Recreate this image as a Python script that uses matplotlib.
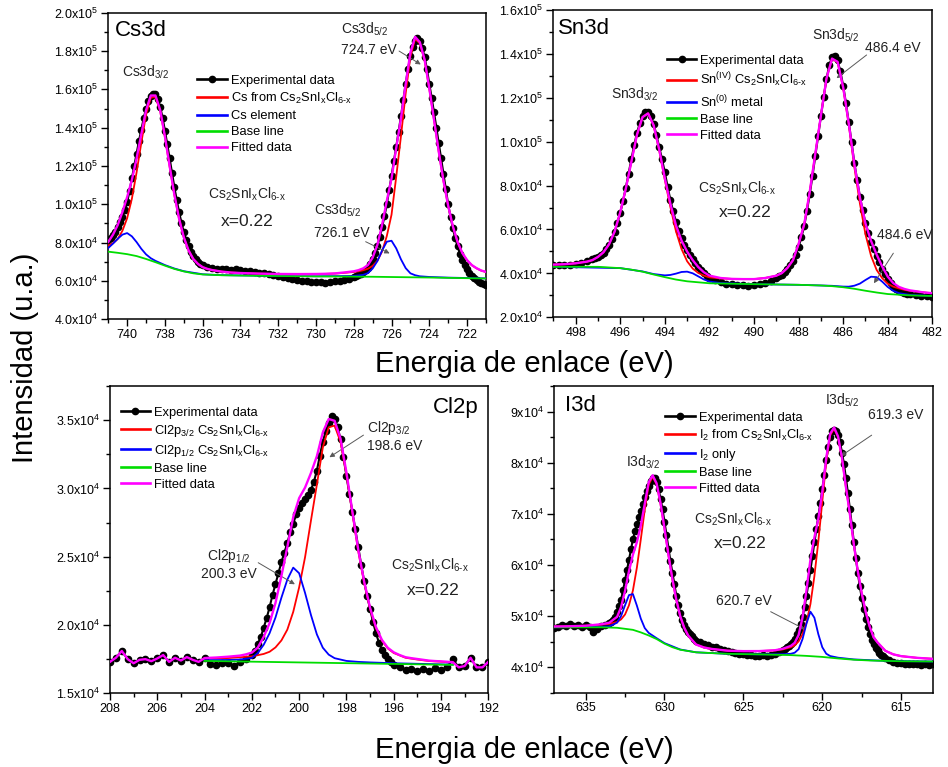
import numpy as np
import matplotlib.pyplot as plt
from matplotlib.ticker import MultipleLocator, FuncFormatter

plt.rcParams['font.family'] = ['Liberation Sans', 'DejaVu Sans']
plt.rcParams['mathtext.fontset'] = 'custom'
plt.rcParams['mathtext.rm'] = 'Liberation Sans'
plt.rcParams['mathtext.it'] = 'Liberation Sans:italic'
plt.rcParams['mathtext.bf'] = 'Liberation Sans:bold'

COMP = 'Cs$_2$SnI$_\\mathrm{x}$Cl$_\\mathrm{6\u2010x}$'

# all intensities below are in units of 1e3 counts

# ---------------- Cs3d ----------------
cs_exp_x = np.concatenate([np.arange(741, 735.99, -0.125),
                           np.arange(735.75, 728.2, -0.25),
                           np.arange(728, 720.99, -0.125)])
cs_exp = [81.5, 82.6, 83.8, 85.8, 88.0, 90.6, 93.5, 97.0, 101.0, 107.0,
          113.5, 120.0, 126.5, 133.0, 139.0, 144.8, 150.0, 153.8, 156.5, 157.8,
          157.5, 155.0, 151.0, 145.2, 138.5, 131.3, 124.0, 116.5, 109.0, 102.3,
          96.0, 90.5, 85.5, 81.5, 78.0, 75.3, 73.0, 71.3, 70.0, 69.1, 68.5,
          67.5, 67.0, 66.5, 66.3, 66.0, 65.6, 66.0, 65.5, 65.0, 65.2,
          64.6, 64.3, 64.0, 63.6, 63.0, 62.8, 62.3, 61.5, 61.0, 60.6,
          60.2, 60.0, 59.6, 59.3, 59.5, 59.2, 59.6, 59.8, 60.2, 60.6, 61.2,
          62.0, 62.4, 63.0, 63.6, 64.5, 65.6, 67.0, 69.0, 71.5, 74.5,
          78.0, 82.7, 88.0, 93.8, 100.0, 107.3, 115.0, 122.5, 130.0, 138.0,
          146.0, 154.5, 163.0, 170.7, 177.5, 182.3, 185.5, 186.6, 185.0, 181.8,
          177.0, 170.5, 163.0, 155.5, 148.0, 140.0, 132.0, 124.0, 116.0, 108.0,
          100.0, 93.3, 87.5, 82.3, 78.0, 74.2, 71.0, 68.3, 66.0, 64.1,
          62.5, 61.4, 60.5, 59.7, 59.0, 58.5, 58.0]
cs_fit_x = np.concatenate([np.arange(741, 735.4, -0.25),
                           [735, 734.5, 734, 733, 732, 731, 730, 729.5, 729, 728.5],
                           np.arange(728, 720.9, -0.25)])
cs_red = [78.5, 79.7, 81.9, 86.2, 92.8, 102.9, 116.7, 132.1, 146.7, 155.6,
          156.1, 148.7, 135.2, 119.7, 104.9, 92.4, 82.7, 75.9, 71.5, 68.9,
          67.2, 66.3, 65.7,
          64.9, 64.4, 64.15, 63.85, 63.6, 63.55, 63.6, 63.7, 63.85, 64.25,
          64.7, 65.05, 65.6, 66.4, 67.9, 70.5, 75.4, 83.45, 94.6, 114.5,
          135.6, 158.0, 177.2, 186.3, 184.0, 175.2, 160.3, 144.0, 127.4, 112.2,
          99.1, 88.4, 80.2, 74.5, 70.8, 68.2, 66.6, 65.4, 64.7]
cs_fit = [80.4, 84.2, 89.2, 96.0, 103.8, 112.7, 124.0, 136.6, 149.1, 156.8,
          156.8, 149.2, 135.5, 120.0, 105.1, 92.5, 82.8, 76.0, 71.5, 68.9,
          67.2, 66.3, 65.7,
          64.9, 64.4, 64.15, 63.85, 63.65, 63.6, 63.65, 63.75, 63.95, 64.45,
          65.05, 65.65, 66.6, 68.3, 72.2, 78.8, 89.2, 101.85, 113.5, 129.5,
          144.9, 162.8, 179.3, 187.4, 184.6, 175.6, 160.6, 144.2, 127.6, 112.4,
          99.25, 88.5, 80.3, 74.6, 70.9, 68.3, 66.7, 65.45, 64.75]
cs_blue_x = [741, 740.75, 740.5, 740.25, 740, 739.75, 739.5, 739.25, 739, 738.75,
             738.5, 738, 737.5, 737, 736, 735, 733, 730, 728, 727.5,
             727.25, 727, 726.75, 726.5, 726.25, 726, 725.75, 725.5, 725.25, 725,
             724.75, 724.5, 724, 723, 721]
cs_blue = [77.2, 79.5, 82.0, 84.2, 85.0, 83.3, 80.3, 76.8, 73.9, 71.9,
           70.5, 68.3, 66.5, 65.1, 63.5, 63.05, 62.75, 62.45, 62.6, 63.2,
           64.1, 66.5, 70.4, 75.9, 80.5, 81.0, 77.0, 71.3, 66.7, 64.0,
           63.0, 62.45, 62.1, 61.75, 61.35]
cs_base_x = [741, 740.5, 740, 739.5, 739, 738.5, 738, 737.5, 737, 736.5, 736,
             735, 733, 730, 727, 724, 721]
cs_base = [75.3, 74.7, 74.0, 73.0, 71.5, 69.8, 68.0, 66.3, 65.0, 64.0, 63.4,
           63.0, 62.7, 62.4, 62.2, 61.8, 61.3]

# ---------------- Sn3d ----------------
sn_exp_x = np.concatenate([np.arange(499, 497.49, -0.25),
                           np.arange(497.25, 491.99, -0.125),
                           np.arange(491.75, 489.24, -0.25),
                           np.arange(489, 482.99, -0.125),
                           np.arange(482.75, 481.99, -0.25)])
sn_exp = [43.8, 43.6, 43.9, 44.0, 44.2, 44.6, 45.5,
          46.5, 47.0, 47.6, 48.4, 49.5, 51.0, 53.0, 55.7, 59.0, 63.0,
          67.5, 73.0, 79.0, 85.5, 92.0, 98.3, 104.0, 108.3, 111.5, 113.3,
          113.5, 111.5, 108.0, 103.0, 97.5, 92.0, 86.0, 79.5, 73.5, 68.2,
          63.5, 59.5, 56.0, 53.0, 50.5, 48.4, 46.5, 44.7, 43.0, 41.4,
          40.0, 38.9, 38.0,
          36.8, 36.0, 35.4, 35.0, 34.7, 34.5, 34.4, 34.6, 35.0, 35.6, 36.5,
          37.8, 38.6, 39.5, 40.6, 42.0, 43.6, 45.5, 48.4, 52.0, 56.5,
          61.5, 68.5, 76.0, 84.5, 93.5, 102.5, 111.5, 120.3, 128.5, 134.8,
          138.5, 139.2, 137.0, 132.0, 125.5, 117.5, 109.0, 99.8, 90.5, 82.5,
          75.0, 68.7, 63.0, 58.5, 54.5, 51.0, 48.0, 45.0, 42.0, 39.6,
          37.5, 35.6, 34.0, 32.9, 32.0, 31.5, 31.0, 30.7, 30.5,
          30.0, 29.8, 29.5, 29.4]
sn_fit_x = np.concatenate([[499, 498.5, 498],
                           np.arange(497.5, 491.9, -0.25),
                           [491.5, 491, 490.5, 490, 489.5, 489],
                           np.arange(488.75, 481.9, -0.25)])
sn_red = [44.0, 44.2, 44.6,
          45.35, 46.05, 47.5, 49.65, 53.3, 59.1, 67.85, 78.6, 90.9, 103.15,
          111.2, 112.9, 107.25, 95.9, 82.6, 70.2, 59.2, 51.1, 45.55, 42.2,
          40.2, 39.0, 38.2,
          37.7, 37.5, 37.4, 37.4, 37.9, 38.95,
          40.15, 42.5, 46.05, 53.4, 62.25, 77.2, 94.55, 111.8, 128.75, 137.7,
          136.2, 124.45, 107.8, 88.5, 71.85, 57.8, 48.0, 41.6, 37.85, 35.3,
          33.95, 33.15, 32.5, 32.05, 31.8, 31.5, 31.2, 31.0]
sn_fit = [44.0, 44.2, 44.6,
          45.35, 46.05, 47.5, 49.65, 53.3, 59.1, 67.85, 78.6, 90.9, 103.15,
          111.2, 112.9, 107.45, 96.4, 83.4, 71.75, 61.9, 54.95, 49.95, 46.05,
          42.9, 40.55, 39.0,
          37.9, 37.5, 37.4, 37.4, 37.9, 38.95,
          40.15, 42.5, 46.05, 53.4, 62.25, 77.2, 94.55, 111.8, 128.75, 137.85,
          136.4, 124.75, 108.4, 89.9, 74.65, 62.7, 54.8, 48.6, 43.15, 38.5,
          35.55, 33.85, 32.9, 32.25, 31.9, 31.5, 31.2, 31.0]
sn_blue_x = [499, 496, 495, 494.5, 494, 493.75, 493.5, 493.25, 493, 492.75,
             492.5, 492.25, 492, 491.5, 490, 488, 486.5, 486, 485.75, 485.5,
             485.25, 485, 484.75, 484.5, 484.25, 484, 483.75, 483.5, 483, 482]
sn_blue = [43.0, 42.4, 40.9, 39.7, 39.1, 39.3, 39.9, 40.65, 40.8, 40.05,
           38.65, 37.25, 36.3, 35.6, 35.1, 34.8, 34.35, 34.0, 33.95, 34.4,
           35.35, 37.0, 38.5, 38.3, 36.25, 33.8, 32.05, 31.0, 30.2, 29.7]
sn_base_x = [499, 497, 496, 495.5, 495, 494.5, 494, 493.5, 493, 492, 490,
             488, 487, 486.5, 486, 485.5, 485, 484.5, 484, 483, 482]
sn_base = [43.0, 43.0, 42.4, 41.7, 40.8, 39.5, 38.3, 37.2, 36.4, 35.5, 35.1,
           34.8, 34.5, 34.2, 33.7, 33.0, 32.1, 31.3, 30.6, 30.0, 29.7]

# ---------------- Cl2p ----------------
cl_exp_x = np.concatenate([np.arange(208, 202.24, -0.25),
                           np.arange(202, 195.99, -0.125),
                           np.arange(195.75, 191.99, -0.25)])
cl_exp = [17.3, 17.6, 18.1, 17.5, 17.2, 17.45, 17.5, 17.35, 17.55, 17.8,
          17.3, 17.6, 17.4, 17.65, 17.45, 17.3, 17.55,
          17.15, 17.05, 17.25, 17.2, 17.0, 17.3, 17.5,
          17.8, 18.1, 18.6, 19.1, 19.8, 20.5, 21.3, 22.2, 23.0, 23.8,
          24.6, 25.3, 26.0, 26.8, 27.4, 28.1, 28.6, 28.9, 29.2, 29.5,
          29.9, 30.5, 31.3, 32.4, 33.4, 34.2, 34.8, 35.3, 35.1, 34.5,
          33.6, 32.3, 30.9, 29.6, 28.3, 27.0, 25.7, 24.4, 23.2, 22.1,
          21.2, 20.2, 19.4, 18.7, 18.2, 17.8, 17.5, 17.3, 17.1,
          16.9, 16.7, 16.8, 16.6, 16.75, 16.6, 16.85, 16.7, 16.9, 17.5,
          16.9, 17.0, 17.6, 16.9, 16.9, 17.3]
cl_fit_x = np.arange(208, 191.9, -0.25)
cl_fit = [17.3, 17.6, 18.1, 17.5, 17.2, 17.45, 17.5, 17.35, 17.55, 17.8,
          17.3, 17.6, 17.4, 17.65, 17.45, 17.3,
          17.58, 17.6, 17.62, 17.65, 17.68, 17.72, 17.76, 17.85, 17.98, 18.34,
          19.13, 20.14, 21.62, 23.59, 25.71, 27.9, 29.29, 30.06, 31.13, 32.36,
          34.09, 35.08, 34.95, 33.65, 31.17, 28.33, 25.51, 23.18, 21.26, 19.84,
          18.91, 18.33, 18.0, 17.8, 17.64, 17.57, 17.51, 17.45, 17.39, 17.36,
          17.34, 17.31, 17.28,
          16.9, 17.0, 17.6, 16.9, 16.9, 17.3]
cl_red_x = [204, 203, 202, 201.5, 201.25, 201, 200.75, 200.5, 200.25, 200,
            199.75, 199.5, 199.25, 199, 198.75, 198.5, 198.25, 198, 197.75, 197.5,
            197.25, 197, 196.75, 196.5, 196.25, 196, 195.5, 195, 194.5, 194, 193.5]
cl_red = [17.53, 17.58, 17.7, 17.88, 18.04, 18.36, 18.87, 19.66, 20.96, 22.76,
          24.96, 27.65, 30.28, 32.98, 34.47, 34.6, 33.4, 31.0, 28.2, 25.4,
          23.08, 21.18, 19.77, 18.85, 18.28, 17.95, 17.6, 17.47, 17.36, 17.31, 17.26]
cl_blue_x = [204, 203, 202.5, 202, 201.75, 201.5, 201.25, 201, 200.75, 200.5,
             200.25, 200, 199.75, 199.5, 199.25, 199, 198.75, 198.5, 198, 197.5,
             197, 196, 194, 193.5]
cl_blue = [17.42, 17.44, 17.47, 17.59, 17.95, 18.55, 19.4, 20.55, 22.0, 23.32,
           24.2, 23.79, 22.35, 20.73, 19.31, 18.34, 17.83, 17.57, 17.37, 17.3,
           17.26, 17.2, 17.12, 17.1]
cl_base_x = [204, 200, 196, 193.5]
cl_base = [17.37, 17.26, 17.15, 17.08]

# ---------------- I3d ----------------
i_exp_x = np.concatenate([np.arange(637, 633.7, -0.25),
                          np.arange(633.5, 627.99, -0.125),
                          np.arange(627.75, 622.74, -0.25),
                          np.arange(622.5, 615.99, -0.125),
                          np.arange(615.75, 612.99, -0.25)])
i_exp = [47.6, 47.9, 48.3, 48.0, 48.5, 48.1, 48.3, 47.9, 48.2, 47.8,
         46.8, 47.5, 48.0, 48.2,
         48.6, 48.9, 49.3, 49.9, 50.8, 51.9, 53.2, 55.0, 57.0, 59.0,
         61.0, 63.1, 65.0, 66.6, 68.0, 69.3, 70.5, 71.9, 73.2, 74.4,
         75.5, 76.4, 77.0, 77.0, 76.2, 74.8, 73.0, 70.9, 68.5, 65.9,
         63.2, 60.8, 58.5, 56.2, 54.0, 52.1, 50.5, 49.3, 48.3, 47.5,
         46.8, 46.4, 46.0, 45.6, 45.2,
         44.9, 44.6, 44.4, 44.0, 43.9, 43.6, 43.4, 43.2, 43.0, 42.8,
         42.6, 42.5, 42.3, 42.4, 42.2, 42.1, 42.3, 42.2, 42.4, 42.6, 42.9,
         43.3, 43.6, 43.9, 44.2, 44.6, 45.0, 45.6, 46.4, 47.3, 48.4,
         49.8, 51.7, 54.0, 56.5, 59.0, 61.7, 64.5, 67.0, 69.5, 72.1,
         74.8, 77.7, 80.5, 83.0, 85.0, 86.2, 86.5, 86.3, 85.5, 84.0,
         82.0, 79.7, 77.0, 74.1, 71.0, 67.8, 64.5, 61.4, 58.5, 55.9,
         53.5, 51.4, 49.5, 47.9, 46.5, 45.4, 44.5, 43.8, 43.3, 42.8,
         42.4, 42.1, 41.8,
         41.4, 41.1, 40.9, 40.8, 40.7, 40.6, 40.7, 40.6, 40.5, 40.6, 40.5, 40.6]
i_fit_x = np.concatenate([[637, 636, 635, 634, 633.5, 633],
                          np.arange(632.75, 628.4, -0.25),
                          [628, 627.5, 627, 626, 625, 624, 623, 622.5, 622],
                          np.arange(621.75, 616.4, -0.25),
                          [616, 615.5, 615, 614, 613]])
i_red = [47.95, 48.0, 48.1, 48.3, 48.45, 48.85,
         49.35, 50.3, 52.1, 55.0, 59.45, 65.0, 70.8, 75.7, 77.25, 75.8,
         71.95, 67.1, 61.95, 57.2, 53.15, 49.9, 47.7, 46.17,
         44.43, 43.85, 43.56, 43.22, 43.13, 43.14, 43.27, 43.47, 43.88,
         44.25, 45.05, 46.46, 48.72, 52.36, 57.81, 64.6, 72.4, 80.23, 85.35,
         86.68, 85.0, 80.83, 75.17, 69.91, 63.98, 58.8, 54.46, 50.82, 47.98,
         45.85, 44.83,
         43.19, 42.5, 42.15, 41.82, 41.62]
i_fit = [47.95, 48.0, 48.1, 48.4, 48.68, 49.85,
         51.75, 54.9, 58.8, 62.0, 64.45, 67.7, 71.95, 76.2, 77.55, 75.97,
         72.1, 67.2, 62.03, 57.27, 53.2, 49.95, 47.73, 46.19,
         44.43, 43.85, 43.56, 43.22, 43.13, 43.14, 43.3, 43.6, 44.14,
         44.75, 46.28, 49.72, 55.06, 61.06, 65.38, 69.0, 74.3, 80.93, 85.67,
         86.9, 85.15, 80.93, 75.2, 69.94, 64.04, 58.83, 54.48, 50.83, 47.98,
         45.85, 44.83,
         43.19, 42.5, 42.15, 41.82, 41.62]
i_blue_x = [637, 634, 633.5, 633, 632.75, 632.5, 632.25, 632, 631.75, 631.5,
            631.25, 631, 630.5, 630, 629, 628, 626, 624, 622.5, 622,
            621.75, 621.5, 621.25, 621, 620.75, 620.5, 620.25, 620, 619.75, 619.5,
            619, 618, 616, 613]
i_blue = [47.8, 47.9, 47.98, 48.7, 50.0, 52.1, 54.1, 54.3, 52.05, 49.5,
          47.65, 46.7, 45.67, 44.7, 43.45, 42.9, 42.6, 42.5, 42.52, 42.61,
          42.82, 43.51, 45.5, 48.54, 50.85, 49.67, 46.45, 43.9, 42.63, 42.17,
          41.85, 41.51, 41.22, 41.1]
i_base_x = [637, 634, 633, 632, 631.5, 631, 630.5, 630, 629.5, 629, 628,
            626, 624, 622, 621, 620, 619, 618, 617, 615, 613]
i_base = [47.8, 47.8, 47.7, 47.3, 46.8, 46.2, 45.5, 44.6, 43.9, 43.4, 42.9,
          42.6, 42.5, 42.35, 42.2, 42.0, 41.7, 41.45, 41.3, 41.15, 41.1]


def sci(v, dec):
    if v <= 0:
        return ''
    e = int(np.floor(np.log10(v) + 1e-9))
    return f'{v / 10 ** e:.{dec}f}x10$^{{{e}}}$'


def draw(ax, ex, ey, rx, ry, bx, by, gx, gy, fx, fy, names):
    k = 1e3
    ax.plot(ex, np.array(ey) * k, '-o', color='black', lw=1.5, ms=4.5,
            zorder=2, label='Experimental data')
    ax.plot(rx, np.array(ry) * k, color='#ff0000', lw=1.3, zorder=3, label=names[0])
    ax.plot(bx, np.array(by) * k, color='#0000ff', lw=1.3, zorder=3, label=names[1])
    ax.plot(gx, np.array(gy) * k, color='#00dd00', lw=1.3, zorder=3, label='Base line')
    ax.plot(fx, np.array(fy) * k, color='#ff00ff', lw=1.7, zorder=4, label='Fitted data')


def style(ax, xlim, xmaj, xmin, ylim, ymaj, ymin, dec):
    ax.set_xlim(*xlim)
    ax.set_ylim(*ylim)
    ax.xaxis.set_major_locator(MultipleLocator(xmaj))
    ax.xaxis.set_minor_locator(MultipleLocator(xmin))
    ax.yaxis.set_major_locator(MultipleLocator(ymaj))
    ax.yaxis.set_minor_locator(MultipleLocator(ymin))
    ax.yaxis.set_major_formatter(FuncFormatter(lambda v, p: sci(v, dec)))
    ax.xaxis.set_major_formatter(FuncFormatter(lambda v, p: f'{v:g}'))
    ax.tick_params(which='both', direction='out', labelsize=9, width=1)
    ax.tick_params(which='major', length=5, pad=2)
    ax.tick_params(which='minor', length=3)
    for s in ax.spines.values():
        s.set_linewidth(1.1)


def leg(ax, x, y):
    lg = ax.legend(loc='upper left', bbox_to_anchor=(x, y), frameon=False,
                   fontsize=9.3, handlelength=2.3, handletextpad=0.3,
                   labelspacing=0.31, borderpad=0, borderaxespad=0)
    for h in lg.get_lines():
        h.set_linewidth(1.9)


def arrow(ax, start, end):
    ax.annotate('', xy=(end[0], end[1] * 1e3), xytext=(start[0], start[1] * 1e3),
                arrowprops=dict(arrowstyle='-|>', color='0.35', lw=0.7,
                                mutation_scale=7, shrinkA=0, shrinkB=0))


def txt(ax, x, y, s, size=10, ha='left'):
    ax.text(x, y * 1e3, s, fontsize=size, ha=ha, va='baseline', color='#222222')


fig = plt.figure(figsize=(9.48, 7.67), dpi=100)
ax1 = fig.add_axes([0.1142, 0.5837, 0.3984, 0.3997])
ax2 = fig.add_axes([0.5837, 0.5863, 0.3998, 0.4007])
ax3 = fig.add_axes([0.1160, 0.0961, 0.3991, 0.4007])
ax4 = fig.add_axes([0.5844, 0.0969, 0.3995, 0.3997])

# Cs3d
draw(ax1, cs_exp_x, cs_exp, cs_fit_x, cs_red, cs_blue_x, cs_blue, cs_base_x, cs_base,
     cs_fit_x, cs_fit, ['Cs from ' + COMP, 'Cs element'])
style(ax1, (741, 721), 2, 1, (4e4, 2e5), 2e4, 1e4, 1)
leg(ax1, 0.235, 0.797)
ax1.text(0.018, 0.975, 'Cs3d', transform=ax1.transAxes, fontsize=16, va='top')
txt(ax1, 739.0, 166.6, r'Cs3d$_{3/2}$', ha='center')
txt(ax1, 728.7, 189.3, r'Cs3d$_{5/2}$')
txt(ax1, 728.7, 178.5, '724.7 eV')
txt(ax1, 730.1, 94.4, r'Cs3d$_{5/2}$')
txt(ax1, 730.1, 83.1, '726.1 eV')
txt(ax1, 733.65, 102.8, COMP, ha='center')
txt(ax1, 733.65, 88.7, 'x=0.22', size=12.5, ha='center')
arrow(ax1, (725.6, 180), (724.45, 173))
arrow(ax1, (727.37, 80.5), (726.1, 74.4))

# Sn3d
draw(ax2, sn_exp_x, sn_exp, sn_fit_x, sn_red, sn_blue_x, sn_blue, sn_base_x, sn_base,
     sn_fit_x, sn_fit, [r'Sn$^{\mathrm{(IV)}}$ ' + COMP, r'Sn$^{\mathrm{(0)}}$ metal'])
style(ax2, (499, 482), 2, 1, (2e4, 1.6e5), 2e4, 1e4, 1)
leg(ax2, 0.299, 0.855)
ax2.text(0.011, 0.975, 'Sn3d', transform=ax2.transAxes, fontsize=16, va='top')
txt(ax2, 495.35, 119.8, r'Sn3d$_{3/2}$', ha='center')
txt(ax2, 486.33, 146.6, r'Sn3d$_{5/2}$', ha='center')
txt(ax2, 485.02, 140.7, '486.4 eV')
txt(ax2, 484.5, 55.5, '484.6 eV')
txt(ax2, 490.78, 76.8, COMP, ha='center')
txt(ax2, 490.38, 65.8, 'x=0.22', size=12.5, ha='center')
arrow(ax2, (484.95, 139.5), (486.3, 128.9))
arrow(ax2, (483.75, 49.2), (484.62, 35.5))

# Cl2p
draw(ax3, cl_exp_x, cl_exp, cl_red_x, cl_red, cl_blue_x, cl_blue, cl_base_x, cl_base,
     cl_fit_x, cl_fit, [r'Cl2p$_{3/2}$ ' + COMP, r'Cl2p$_{1/2}$ ' + COMP])
style(ax3, (208, 192), 2, 1, (1.5e4, 3.75e4), 5e3, 2.5e3, 1)
leg(ax3, 0.028, 0.933)
ax3.text(0.975, 0.965, 'Cl2p', transform=ax3.transAxes, fontsize=16, va='top', ha='right')
txt(ax3, 197.14, 34.15, r'Cl2p$_{3/2}$')
txt(ax3, 197.14, 32.8, '198.6 eV')
txt(ax3, 202.98, 24.76, r'Cl2p$_{1/2}$', ha='center')
txt(ax3, 202.98, 23.42, '200.3 eV', ha='center')
txt(ax3, 194.46, 24.08, COMP, ha='center')
txt(ax3, 194.32, 22.2, 'x=0.22', size=12.5, ha='center')
arrow(ax3, (197.28, 33.9), (198.72, 32.28))
arrow(ax3, (201.73, 24.56), (200.18, 22.98))

# I3d
draw(ax4, i_exp_x, i_exp, i_fit_x, i_red, i_blue_x, i_blue, i_base_x, i_base,
     i_fit_x, i_fit, [r'I$_2$ from ' + COMP, r'I$_2$ only'])
style(ax4, (637, 613), 5, 2.5, (3.5e4, 9.5e4), 1e4, 5e3, 0)
leg(ax4, 0.293, 0.917)
ax4.text(0.029, 0.97, 'I3d', transform=ax4.transAxes, fontsize=16, va='top')
txt(ax4, 631.34, 79.2, r'I3d$_{3/2}$', ha='center')
txt(ax4, 618.73, 91.3, r'I3d$_{5/2}$', ha='center')
txt(ax4, 617.08, 88.5, '619.3 eV')
txt(ax4, 626.75, 52.2, '620.7 eV')
txt(ax4, 625.64, 68.0, COMP, ha='center')
txt(ax4, 625.2, 63.4, 'x=0.22', size=12.5, ha='center')
arrow(ax4, (616.87, 85.4), (618.83, 81.3))
arrow(ax4, (623.27, 50.85), (621.1, 47.4))

fig.text(524.5 / 948, 1 - 372 / 767, 'Energia de enlace (eV)', fontsize=21,
         ha='center', va='baseline')
fig.text(524.5 / 948, 1 - 757.7 / 767, 'Energia de enlace (eV)', fontsize=21,
         ha='center', va='baseline')
fig.text(25 / 948, 1 - 358 / 767, 'Intensidad (u.a.)', fontsize=21,
         rotation=90, ha='center', va='center')

fig.savefig('out.png', dpi=100)
